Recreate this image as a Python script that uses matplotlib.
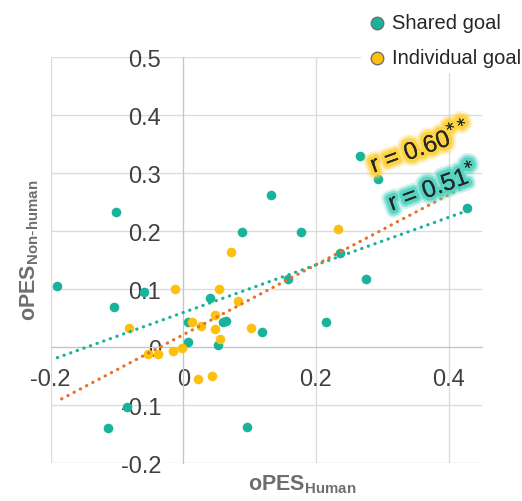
import matplotlib.pyplot as plt
import matplotlib.patheffects as pe
import numpy as np

plt.rcParams['font.family'] = ['Liberation Sans', 'DejaVu Sans']
plt.rcParams['mathtext.default'] = 'regular'

# shared goal pairs (oPES human, oPES non-human)
shared_x = [-0.190, -0.102, -0.104, -0.060, -0.085, -0.113, 0.096, 0.0075, 0.0075,
            0.040, 0.053, 0.060, 0.064, 0.088, 0.118, 0.132, 0.158, 0.177, 0.215,
            0.2365, 0.266, 0.276, 0.293, 0.428]
shared_y = [0.106, 0.234, 0.070, 0.095, -0.103, -0.139, -0.138, 0.009, 0.044,
            0.085, 0.004, 0.043, 0.045, 0.199, 0.026, 0.263, 0.118, 0.198, 0.043,
            0.163, 0.329, 0.118, 0.290, 0.240]

# individual goal pairs
indiv_x = [-0.082, -0.053, -0.038, -0.0126, -0.016, -0.0025, 0.0125, 0.026, 0.0225,
           0.044, 0.048, 0.048, 0.054, 0.055, 0.072, 0.082, 0.102, 0.2335]
indiv_y = [0.033, -0.011, -0.011, 0.1005, -0.007, -0.001, 0.043, 0.036, -0.054,
           -0.050, 0.055, 0.031, 0.1005, 0.014, 0.164, 0.079, 0.033, 0.204]

# linear trends: slope, intercept, x span
trend_shared = [0.41, 0.060, -0.19, 0.435]
trend_indiv = [0.603, 0.0217, -0.1835, 0.435]

x_ticks = [-0.2, 0, 0.2, 0.4]
y_ticks = [-0.2, -0.1, 0, 0.1, 0.2, 0.3, 0.4, 0.5]

teal = '#19b39b'
yellow = '#fcc10e'
orange = '#e8702a'

fig = plt.figure(figsize=(5.22, 5.02), dpi=100)
ax = fig.add_axes([0.0971, 0.0751, 0.8257, 0.8088])

ax.scatter(shared_x, shared_y, s=48, color=teal, zorder=3, linewidths=0, label='Shared goal')
ax.scatter(indiv_x, indiv_y, s=48, color=yellow, zorder=3, linewidths=0, label='Individual goal')

for (k, b, x0, x1), c in [(trend_shared, teal), (trend_indiv, orange)]:
    xx = np.array([x0, x1])
    ax.plot(xx, k * xx + b, color=c, lw=2.3, linestyle=(0, (0.1, 2.1)),
            dash_capstyle='round', zorder=4)

ax.set_xlim(-0.2, 0.45)
ax.set_ylim(-0.2, 0.5)
ax.set_xticks(x_ticks)
ax.set_yticks(y_ticks)
ax.set_xticklabels(['-0.2', '0', '0.2', '0.4'])
ax.set_yticklabels(['-0.2', '-0.1', '0', '0.1', '0.2', '0.3', '0.4', '0.5'])
ax.tick_params(length=0, labelsize=17, labelcolor='#404040', pad=15)
ax.tick_params(axis='y', pad=16)

ax.spines['left'].set_position('zero')
ax.spines['bottom'].set_position('zero')
for s in ['top', 'right']:
    ax.spines[s].set_visible(False)
for s in ['left', 'bottom']:
    ax.spines[s].set_color('#c4c4c4')
    ax.spines[s].set_zorder(1)
ax.grid(color='#dcdcdc', lw=1)
ax.set_axisbelow(True)

def glow(col):
    return [pe.withStroke(linewidth=11, foreground=col, alpha=0.25),
            pe.withStroke(linewidth=8, foreground=col, alpha=0.5),
            pe.withStroke(linewidth=5, foreground=col, alpha=0.9),
            pe.Normal()]

ax.text(0.357, 0.345, r'r = 0.60$^{\mathsf{**}}$', fontsize=17.5, color='#262626', rotation=20,
        ha='center', va='center', zorder=6, path_effects=glow('#fdd23a'))
ax.text(0.376, 0.276, r'r = 0.51$^{\mathsf{*}}$', fontsize=17.5, color='#262626', rotation=20,
        ha='center', va='center', zorder=6, path_effects=glow('#4fd3c0'))

fig.text(302 / 522, 1 - 485 / 502, r'oPES$_{Human}$', fontsize=15.5, fontweight='bold',
         color='#6e6e6e', ha='center', va='center')
fig.text(30 / 522, 1 - 250 / 502, r'oPES$_{Non\text{-}human}$', fontsize=15.5, fontweight='bold',
         color='#6e6e6e', ha='center', va='center', rotation=90)

leg = fig.legend(loc='upper left', bbox_to_anchor=(361 / 522, 1 - 8 / 502), fontsize=14.5,
                 frameon=True, facecolor='white', edgecolor='none', framealpha=1,
                 handlelength=1.0, handletextpad=0.25, labelspacing=0.8, borderpad=0.3,
                 borderaxespad=0, markerscale=1.3)
for h in leg.legend_handles:
    h.set_edgecolor('#707070')
    h.set_linewidth(1)
for t in leg.get_texts():
    t.set_color('#262626')

fig.savefig('out.png', dpi=100)
